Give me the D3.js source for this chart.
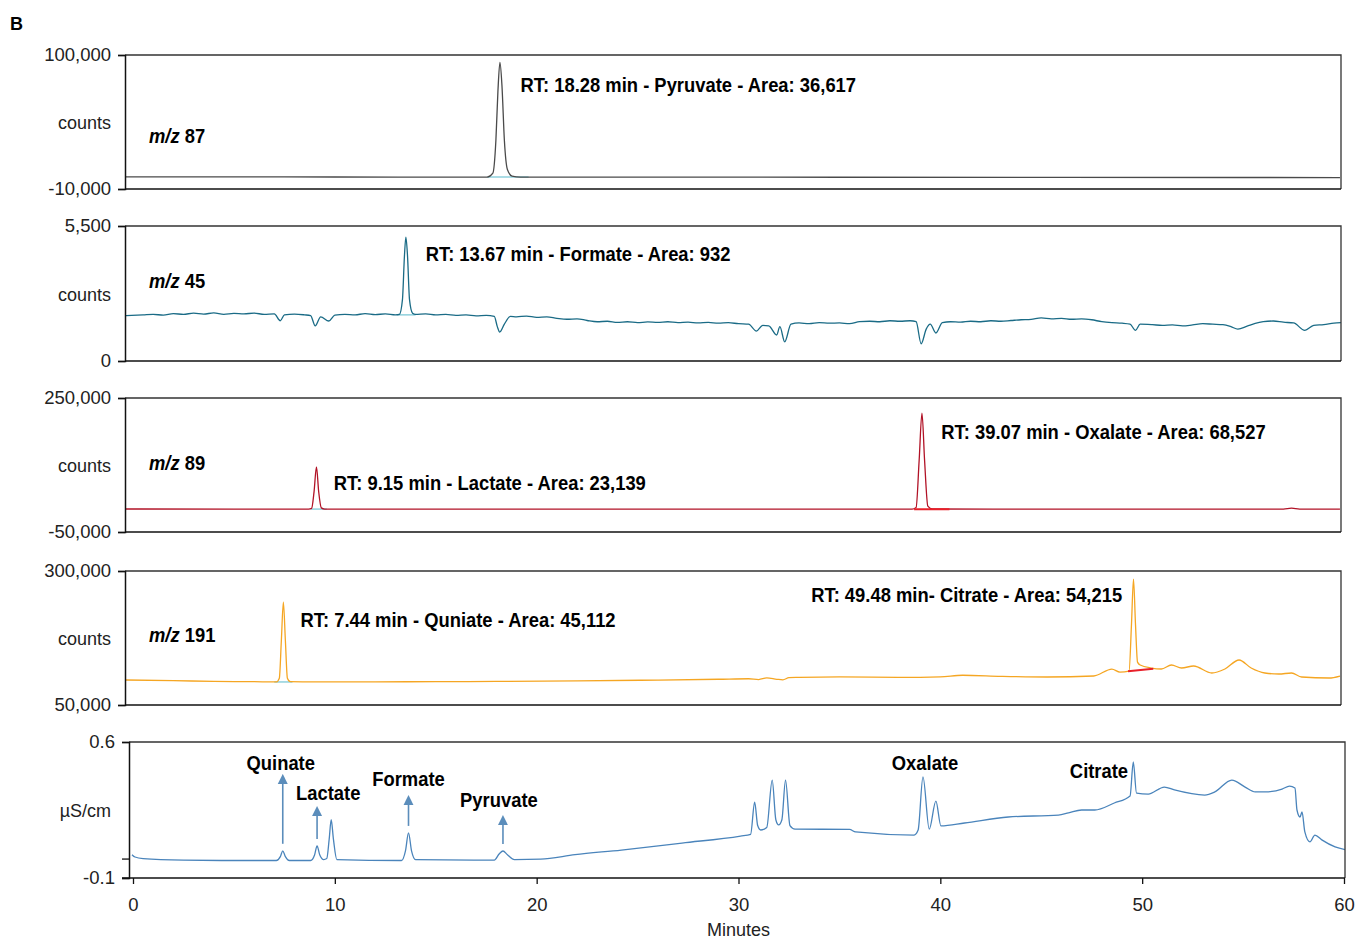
<!DOCTYPE html>
<html>
<head>
<meta charset="utf-8">
<script src="https://cdn.jsdelivr.net/npm/d3@7"></script>
<style>
body { margin: 0; background: #fff; }
svg text { font-family: "Liberation Sans", Arial, sans-serif; }
.bold { font-weight: bold; font-size: 20px; }
</style>
</head>
<body>
<div id="chart"></div>
<script>
var width = 1356, height = 941;

// x axis (minutes)
var minuteTicks = [0, 10, 20, 30, 40, 50, 60];

// m/z 87 trace [minutes, counts]
var mz87 = [[-0.4,0],[5,-100],[10,-150],[15,-200],[17.55,-200],[17.83,3000],[17.98,30000],[18.08,70000],[18.18,94000],[18.28,75000],[18.4,30000],[18.55,6000],[18.78,600],[19.2,-200],[25,-250],[35,-350],[45,-450],[55,-550],[59.8,-600]];
var mz87Base = [[17.55,-100],[19.6,-100]];

// m/z 45 trace
var mz45 = [[-0.35,1850],[0.5,1880],[1,1900],[1.5,1870],[2,1930],[2.5,1900],[3,1950],[3.5,1910],[4,1960],[4.5,1900],[5,1940],[5.5,1920],[6,1950],[6.5,1900],[7,1920],[7.3,1640],[7.5,1880],[8,1910],[8.5,1880],[8.8,1850],[9.03,1430],[9.3,1800],[9.7,1630],[10,1870],[10.5,1900],[11,1880],[11.5,1930],[12,1890],[12.5,1920],[13,1880],[13.2,1900],[13.35,2500],[13.45,4300],[13.52,5050],[13.6,4300],[13.7,2500],[13.85,1950],[14,1900],[14.5,1920],[15,1880],[15.5,1900],[16,1860],[16.5,1880],[17,1840],[17.5,1860],[17.9,1820],[18.05,1400],[18.17,1180],[18.4,1500],[18.7,1820],[19,1800],[19.5,1830],[20,1780],[20.5,1800],[21,1740],[21.5,1700],[22,1720],[22.5,1650],[23,1600],[23.5,1620],[24,1570],[24.5,1600],[25,1560],[25.5,1590],[26,1570],[26.5,1600],[27,1560],[27.5,1580],[28,1550],[28.5,1570],[29,1540],[29.5,1560],[30,1520],[30.5,1500],[30.89,1220],[31.2,1450],[31.5,1430],[31.89,1060],[32.05,1400],[32.29,780],[32.6,1500],[33,1550],[33.5,1520],[34,1560],[34.5,1540],[35,1550],[35.5,1520],[36,1600],[36.5,1620],[37,1600],[37.5,1640],[38,1620],[38.5,1640],[38.8,1600],[39.05,700],[39.3,1300],[39.5,1500],[39.78,1140],[40.1,1560],[40.5,1600],[41,1580],[41.5,1620],[42,1600],[42.5,1640],[43,1620],[43.5,1650],[44,1680],[44.5,1700],[45,1760],[45.5,1720],[46,1740],[46.5,1700],[47,1720],[47.5,1680],[48,1600],[48.5,1560],[49,1540],[49.4,1500],[49.67,1250],[49.9,1500],[50.5,1480],[51,1450],[51.5,1470],[52,1430],[52.5,1470],[53,1520],[53.5,1500],[54,1480],[54.4,1400],[54.74,1300],[55.2,1420],[55.6,1530],[56,1600],[56.5,1630],[57,1580],[57.5,1550],[58.06,1250],[58.5,1450],[59,1480],[59.5,1540],[59.85,1560]];
var mz45Base = [[13.1,1880],[14.0,1880]];

// m/z 89 trace
var mz89 = [[-0.4,1500],[5,1400],[8.7,1300],[8.85,3000],[8.97,40000],[9.09,95500],[9.2,40000],[9.33,4000],[9.5,1400],[15,1300],[20,1200],[30,1200],[38.6,1300],[38.8,5000],[38.95,110000],[39.09,216000],[39.22,110000],[39.38,8000],[39.6,1500],[45,1300],[55,1000],[57.0,1400],[57.4,3300],[57.8,1200],[59.8,1000]];
var mz89Base = [[8.8,1300],[9.6,1300]];
var mz89Red = [[38.7,1200],[40.45,1200]];

// m/z 191 trace
var mz191 = [[-0.35,96600],[2,95500],[4,94000],[6,93500],[7.1,93000],[7.25,100000],[7.35,170000],[7.45,242000],[7.55,170000],[7.65,100000],[7.8,93500],[9,93000],[12,93200],[15,93500],[18,94000],[22,95000],[26,96500],[29,98000],[30.5,99000],[31,97500],[31.4,100500],[31.9,98000],[32.2,97000],[32.5,101000],[33,101500],[35,102500],[38,101500],[40,102500],[41.1,105500],[43,103500],[45.3,102200],[47.6,104100],[48.5,117000],[48.9,111500],[49.35,113400],[49.47,200000],[49.57,285000],[49.67,200000],[49.77,130000],[49.9,124600],[50.45,119000],[50.95,117200],[51.45,124600],[51.95,119000],[52.55,122800],[53.45,109700],[54.1,117200],[54.8,134000],[55.4,119000],[56.08,109700],[56.77,107800],[57.4,109700],[57.9,102200],[59.26,100400],[59.8,104100]];
var mz191Base = [[7.0,93000],[7.9,93000]];
var mz191Red = [[49.3,113000],[50.55,117500]];

// conductivity trace [minutes, µS/cm]
var cond = [[-0.05,0.02],[0.1,0.008],[0.5,0.0],[2.5,-0.008],[5,-0.01],[7.1,-0.01],[7.3,0.01],[7.42,0.04],[7.55,0.01],[7.75,-0.01],[8.8,-0.01],[9.0,0.02],[9.12,0.065],[9.25,0.02],[9.45,-0.005],[9.6,0.0],[9.72,0.1],[9.82,0.2],[9.93,0.1],[10.1,-0.005],[13.3,-0.01],[13.5,0.04],[13.65,0.132],[13.8,0.04],[14.0,-0.005],[17.9,-0.008],[18.15,0.025],[18.33,0.039],[18.55,0.02],[18.9,-0.005],[20.2,-0.003],[21.9,0.02],[24.2,0.044],[27.2,0.08],[30.1,0.116],[30.6,0.125],[30.8,0.29],[30.95,0.17],[31.1,0.147],[31.4,0.16],[31.67,0.404],[31.85,0.2],[31.99,0.173],[32.15,0.2],[32.33,0.404],[32.55,0.17],[32.8,0.152],[35.5,0.15],[35.8,0.137],[38.7,0.121],[38.9,0.147],[39.14,0.42],[39.45,0.152],[39.78,0.296],[40.03,0.168],[41.2,0.183],[43.37,0.214],[45.85,0.224],[46.35,0.235],[47.0,0.25],[47.65,0.25],[48.62,0.286],[49.4,0.322],[49.56,0.497],[49.72,0.337],[50.3,0.332],[51.1,0.368],[51.6,0.353],[53.1,0.327],[53.6,0.343],[54.44,0.404],[55.1,0.368],[55.6,0.343],[56.08,0.343],[56.93,0.358],[57.3,0.373],[57.57,0.363],[57.67,0.25],[57.82,0.214],[57.92,0.24],[58.06,0.137],[58.31,0.086],[58.56,0.121],[58.9,0.096],[59.56,0.06],[60.15,0.044]];

// labels
var rtLabels = [
  {p:0, t:19.2, v:69600, text:"RT: 18.28 min - Pyruvate - Area: 36,617"},
  {p:1, t:14.5, v:4074, text:"RT: 13.67 min - Formate - Area: 932"},
  {p:2, t:40.05, v:158200, text:"RT: 39.07 min - Oxalate - Area: 68,527"},
  {p:2, t:9.95, v:44000, text:"RT: 9.15 min - Lactate - Area: 23,139"},
  {p:3, t:33.6, v:242200, text:"RT: 49.48 min- Citrate - Area: 54,215"},
  {p:3, t:8.3, v:195500, text:"RT: 7.44 min - Quniate - Area: 45,112"}
];
var peakNames = ["Quinate","Lactate","Formate","Pyruvate","Oxalate","Citrate"];
var peakTimes = [7.42, 9.12, 13.65, 18.33, 39.14, 49.56];
var arrowFrom = [0.04, 0.065, 0.132, 0.039, null, null];
var arrowTo = [0.41, 0.245, 0.301, 0.198, null, null];
var nameLevel = [0.455, 0.30, 0.375, 0.265, 0.455, 0.415];
var nameShift = [-0.1, 0.55, 0, -0.2, 0.1, -1.7];

var panels = [
  {top:55, bottom:189, left:125, right:1341, domain:[-10000,100000], ticks:[-10000,100000], unit:"counts", mz:"87", mzY:143, color:"#4a4a4a", data:mz87, base:[mz87Base], red:[]},
  {top:226, bottom:361, left:125, right:1341, domain:[0,5500], ticks:[0,5500], unit:"counts", mz:"45", mzY:288, color:"#1a6b86", data:mz45, base:[mz45Base], red:[]},
  {top:398, bottom:532, left:125, right:1341, domain:[-50000,250000], ticks:[-50000,250000], unit:"counts", mz:"89", mzY:470, color:"#b11226", data:mz89, base:[mz89Base], red:[mz89Red]},
  {top:571, bottom:705, left:125, right:1341, domain:[50000,300000], ticks:[50000,300000], unit:"counts", mz:"191", mzY:642, color:"#f5a623", data:mz191, base:[mz191Base], red:[mz191Red]},
  {top:742, bottom:878, left:129, right:1345, domain:[-0.1,0.6], ticks:[-0.1,0,0.6], unit:"µS/cm", mz:null, color:"#4a84bb", data:cond, base:[], red:[]}
];

var x = d3.scaleLinear().domain([0, 60]).range([133, 1344]);
var fmt = d3.format(",");
var hyphen = s => s.replace("\u2212", "-");

var svg = d3.select("#chart").append("svg").attr("width", width).attr("height", height);

svg.append("defs").append("marker")
  .attr("id", "arrowhead").attr("viewBox", "0 0 10 10")
  .attr("refX", 5).attr("refY", 5)
  .attr("markerWidth", 10).attr("markerHeight", 12)
  .attr("markerUnits", "userSpaceOnUse")
  .attr("orient", "auto")
  .append("path").attr("d", "M0,0 L10,5 L0,10 Z").attr("fill", "#5b8dbb");

// condensed bold label
function boldText(px, py, anchor) {
  return svg.append("text").attr("class", "bold")
    .attr("transform", "translate(" + px + "," + py + ") scale(0.92,1)")
    .attr("text-anchor", anchor || "start");
}

svg.append("text").attr("x", 10).attr("y", 30)
  .style("font-size", "18px").style("font-weight", "bold").text("B");

panels.forEach((p, i) => {
  var y = d3.scaleLinear().domain(p.domain).range([p.bottom, p.top]);
  p.y = y;
  var g = svg.append("g");

  g.append("clipPath").attr("id", "clip" + i).append("rect")
    .attr("x", p.left).attr("y", p.top - 2).attr("width", p.right - p.left).attr("height", p.bottom - p.top + 4);

  var line = d3.line().x(d => x(d[0])).y(d => y(d[1])).curve(d3.curveMonotoneX);

  p.base.forEach(b => {
    g.append("path").datum(b).attr("d", line).attr("fill", "none")
      .attr("stroke", "#8fd0dc").attr("stroke-width", 1.5).attr("clip-path", "url(#clip" + i + ")");
  });
  g.append("path").datum(p.data).attr("d", line).attr("fill", "none")
    .attr("stroke", p.color).attr("stroke-width", 1.3).attr("clip-path", "url(#clip" + i + ")");
  p.red.forEach(b => {
    g.append("path").datum(b).attr("d", line).attr("fill", "none")
      .attr("stroke", "#e8202a").attr("stroke-width", 2).attr("clip-path", "url(#clip" + i + ")");
  });

  // frame
  g.append("path")
    .attr("d", "M" + p.left + "," + p.top + "H" + p.right + "V" + p.bottom)
    .attr("fill", "none").attr("stroke", "#333").attr("stroke-width", 1.3);

  var yAxis = d3.axisLeft(y).tickValues(p.ticks).tickSizeOuter(0).tickSize(7)
    .tickFormat(d => (i == 4 ? (d == 0 ? "" : hyphen(d3.format(".1f")(d))) : hyphen(fmt(d))));
  var ag = g.append("g").attr("transform", "translate(" + p.left + ",0)").call(yAxis);
  ag.select(".domain").attr("stroke", "#111").attr("stroke-width", 1.5);
  ag.selectAll(".tick line").attr("stroke", "#111").attr("stroke-width", 1.3);
  ag.selectAll("text").style("font-size", "18.5px").style("font-family", "Liberation Sans, Arial, sans-serif")
    .attr("fill", "#222").attr("x", -14);

  if (i != 4) {
    g.append("line").attr("x1", p.left).attr("x2", p.right).attr("y1", p.bottom).attr("y2", p.bottom)
      .attr("stroke", "#111").attr("stroke-width", 1.5);
  }

  g.append("text").attr("x", 111).attr("y", (p.top + p.bottom) / 2 + 1).attr("text-anchor", "end")
    .attr("dy", "0.35em").style("font-size", "18px").attr("fill", "#222").text(p.unit);

  if (p.mz) {
    var t = boldText(149, p.mzY);
    t.append("tspan").style("font-style", "italic").text("m/z ");
    t.append("tspan").text(p.mz);
  }
});

// RT annotations
rtLabels.forEach(l => {
  var p = panels[l.p];
  boldText(x(l.t), p.y(l.v)).text(l.text);
});

// x axis under the conductivity panel
var p5 = panels[4];
var xAxis = d3.axisBottom(x).tickValues(minuteTicks).tickSize(6).tickSizeOuter(0).tickFormat(d3.format("d"));
var xg = svg.append("g").attr("transform", "translate(0," + p5.bottom + ")").call(xAxis);
xg.select(".domain").remove();
xg.append("line").attr("x1", 122).attr("x2", p5.right).attr("y1", 0).attr("y2", 0)
  .attr("stroke", "#111").attr("stroke-width", 1.5);
xg.selectAll(".tick line").attr("stroke", "#111").attr("stroke-width", 1.3);
xg.selectAll("text").style("font-size", "18.5px").attr("fill", "#222").attr("y", 20);

svg.append("text").attr("x", (x(0) + x(60)) / 2).attr("y", 936).attr("text-anchor", "middle")
  .style("font-size", "18px").attr("fill", "#222").text("Minutes");

// peak names and arrows in the conductivity panel
peakNames.forEach((n, i) => {
  if (arrowFrom[i] != null) {
    svg.append("line")
      .attr("x1", x(peakTimes[i])).attr("x2", x(peakTimes[i]))
      .attr("y1", p5.y(arrowFrom[i]) - 7).attr("y2", p5.y(arrowTo[i]))
      .attr("stroke", "#5b8dbb").attr("stroke-width", 1.6)
      .attr("marker-end", "url(#arrowhead)");
  }
  boldText(x(peakTimes[i] + nameShift[i]), p5.y(nameLevel[i]), "middle").text(n);
});
</script>
</body>
</html>
